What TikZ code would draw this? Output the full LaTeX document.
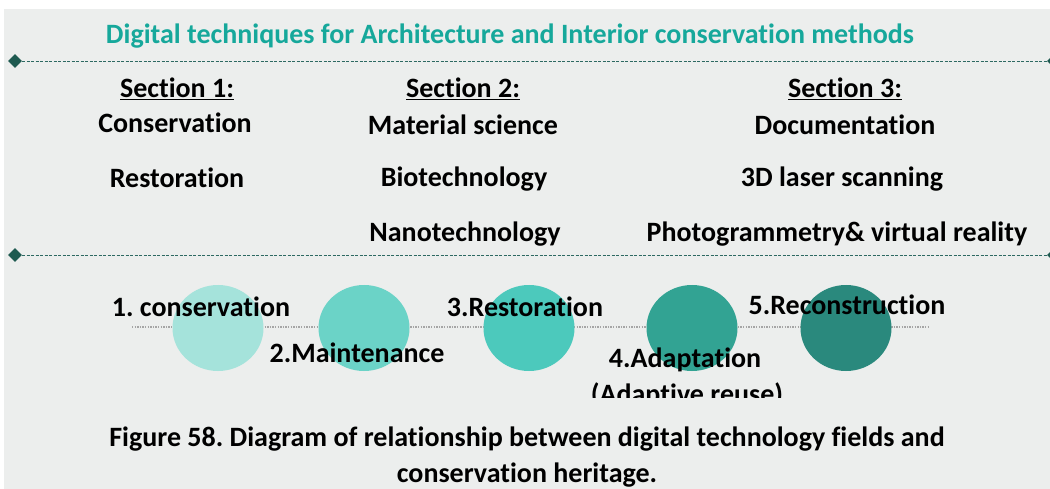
\documentclass[tikz,border=0pt]{standalone}
\usepackage{fontspec}
\setmainfont{Carlito}[Ligatures=NoCommon]
\usetikzlibrary{shapes.geometric}
\frenchspacing
\definecolor{paper}{RGB}{236,238,237}
\definecolor{headteal}{RGB}{22,168,155}
\definecolor{tipgreen}{RGB}{30,90,80}
\definecolor{lineteal}{RGB}{45,105,98}
\definecolor{dotgrey}{RGB}{165,165,165}
\definecolor{stageA}{RGB}{165,227,219}
\definecolor{stageB}{RGB}{107,211,199}
\definecolor{stageC}{RGB}{76,201,188}
\definecolor{stageD}{RGB}{50,163,147}
\definecolor{stageE}{RGB}{42,137,125}

\begin{document}
\begin{tikzpicture}[x=1pt,y=-1pt,
    txt/.style={font=\bfseries\fontsize{28}{36}\selectfont,inner sep=0pt},
    head/.style={txt,text=headteal},
    tip/.style={diamond,fill=tipgreen,inner sep=0pt,minimum size=14pt},
    sepline/.style={lineteal,line width=0.7pt,dash pattern=on 3pt off 1.5pt},
    stage/.style={ellipse,inner sep=0pt,minimum width=91pt,minimum height=86pt}]
      \useasboundingbox (0,0) rectangle (1050,489);
      \fill[paper] (4,9) rectangle (1050,489);

      \node[head](title) at (510,36){Digital techniques for Architecture and Interior conservation methods};

      % separators
      \node[tip](topL) at (15,61){};
      \node[tip](topR) at (1054,61){};
      \draw[sepline] (topL) -- (topR);
      \node[tip](midL) at (15,255){};
      \node[tip](midR) at (1054,255){};
      \draw[sepline] (midL) -- (midR);

      % sections
      \node[txt](sec1) at (177,89){\underline{Section 1:}};
      \node[txt](sec1a) at (175,123){Conservation};
      \node[txt](sec1b) at (177,178){Restoration};

      \node[txt](sec2) at (463,89){\underline{Section 2:}};
      \node[txt](sec2a) at (463,125){Material science};
      \node[txt](sec2b) at (464,179){Biotechnology};
      \node[txt](sec2c) at (465,234){Nanotechnology};

      \node[txt](sec3) at (845,89){\underline{Section 3:}};
      \node[txt](sec3a) at (845,125){Documentation};
      \node[txt](sec3b) at (842,179){3D laser scanning};
      \node[txt](sec3c) at (837,234){Photogrammetry\& virtual reality};

      % stages
      \coordinate (dotL) at (132,327);
      \coordinate (dotR) at (929,327);
      \draw[dotgrey,line width=1.4pt,dash pattern=on 1.4pt off 1.2pt] (dotL) -- (dotR);
      \node[stage,fill=stageA](s1) at (218,328){};
      \node[stage,fill=stageB](s2) at (364,328){};
      \node[stage,fill=stageC](s3) at (529,328){};
      \node[stage,fill=stageD](s4) at (692,328){};
      \node[stage,fill=stageE](s5) at (846,328){};

      \node[txt](l1) at (201,307){1. conservation};
      \node[txt](l2) at (357,353){2.Maintenance};
      \node[txt](l3) at (525,307){3.Restoration};
      \node[txt](l4) at (685,360){4.Adaptation};
      \begin{scope}
        \clip (560,374) rectangle (820,397);
        \node[txt](l4b) at (687,395){(Adaptive reuse)};
      \end{scope}
      \node[txt](l5) at (847,305){5.Reconstruction};

      % caption
      \node[txt,align=center](cap) at (527,457){Figure 58. Diagram of relationship between digital technology fields and\\conservation heritage.};
    \end{tikzpicture}
\end{document}
